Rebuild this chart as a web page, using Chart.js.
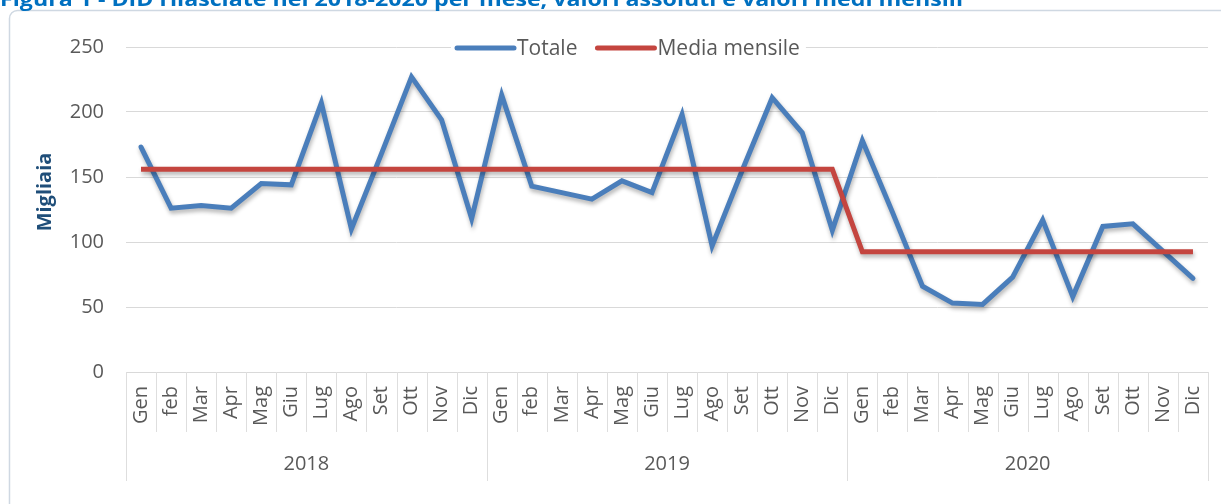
<!DOCTYPE html>
<html>
<head>
<meta charset="utf-8">
<script src="https://cdn.jsdelivr.net/npm/chart.js@4.4.1/dist/chart.umd.min.js"></script>
<style>
  html, body { margin: 0; padding: 0; background: #fff; overflow: hidden; }
  #wrap { position: relative; width: 1221px; height: 504px; }
  canvas { display: block; }
</style>
</head>
<body>
<div id="wrap"><canvas id="c" width="1221" height="504"></canvas></div>
<script>
// ---- Data (values in thousands) ----
const months = ['Gen','feb','Mar','Apr','Mag','Giu','Lug','Ago','Set','Ott','Nov','Dic'];
const years = ['2018','2019','2020'];
const totale2018 = [173,126,128,126,145,144,207,110,168,227,194,118];
const totale2019 = [213,143,138,133,147,138,198,97,155,211,184,109];
const totale2020 = [178,123,66,53,52,73,117,58,112,114,93,72];
const media2018 = [156,156,156,156,156,156,156,156,156,156,156,156];
const media2019 = [156,156,156,156,156,156,156,156,156,156,156,156];
const media2020 = [92.5,92.5,92.5,92.5,92.5,92.5,92.5,92.5,92.5,92.5,92.5,92.5];
const yTicks = [0,50,100,150,200,250];
const titleText = 'Figura 1 - DID rilasciate nel 2018-2020 per mese, valori assoluti e valori medi mensili';
const yTitle = 'Migliaia';
const seriesNames = ['Totale','Media mensile'];

// ---- Build ----
const labels = [].concat(months, months, months);
const totale = [].concat(totale2018, totale2019, totale2020);
const media = [].concat(media2018, media2019, media2020);

const FONT = '"Open Sans", "Noto Sans", sans-serif';
const GRAY = '#595959';
const BLUE = '#4A7EBB';
const RED = '#C4453F';

const decor = {
  id: 'decor',
  beforeDraw(chart) {
    const ctx = chart.ctx;
    ctx.save();
    ctx.fillStyle = '#ffffff';
    ctx.fillRect(0, 0, chart.width, chart.height);
    // frame
    ctx.strokeStyle = '#cfd8e2';
    ctx.lineWidth = 1.5;
    ctx.beginPath();
    ctx.roundRect(9.5, 10.5, chart.width + 30, chart.height + 30, 8);
    ctx.stroke();
    // title (partially cut at the top)
    ctx.fillStyle = '#0070C0';
    ctx.font = 'bold 20px ' + FONT;
    ctx.textBaseline = 'alphabetic';
    ctx.textAlign = 'left';
    const w = ctx.measureText(titleText).width;
    ctx.translate(0, 6);
    ctx.scale(963 / w, 1);
    ctx.fillText(titleText, 0, 0);
    ctx.restore();
  },
  beforeDatasetDraw(chart) {
    const ctx = chart.ctx;
    ctx.save();
    ctx.shadowColor = 'rgba(0,0,0,0.30)';
    ctx.shadowBlur = 4;
    ctx.shadowOffsetX = 1;
    ctx.shadowOffsetY = 3;
  },
  afterDatasetDraw(chart) {
    chart.ctx.restore();
  },
  afterDraw(chart) {
    const ctx = chart.ctx;
    const xs = chart.scales.x, x2 = chart.scales.x2;
    const n = labels.length;
    ctx.save();
    // category separators
    ctx.strokeStyle = '#dedede';
    ctx.lineWidth = 1;
    for (let i = 0; i <= n; i++) {
      let x;
      if (i === 0) x = xs.left;
      else if (i === n) x = xs.right;
      else x = (xs.getPixelForTick(i - 1) + xs.getPixelForTick(i)) / 2;
      x = Math.round(x) + 0.5;
      const y1 = (i % 12 === 0) ? x2.bottom + 3 : xs.bottom;
      ctx.beginPath();
      ctx.moveTo(x, xs.top);
      ctx.lineTo(x, y1);
      ctx.stroke();
    }
    // y axis title
    ctx.save();
    ctx.translate(45, 192);
    ctx.rotate(-Math.PI / 2);
    ctx.font = 'bold 20px ' + FONT;
    ctx.fillStyle = '#1F4E79';
    ctx.textAlign = 'center';
    ctx.textBaseline = 'middle';
    ctx.fillText(yTitle, 0, 0);
    ctx.restore();
    // legend (inside plot, top)
    ctx.font = '21px ' + FONT;
    const ly = 48;
    let lx = 457;
    const items = chart.data.datasets.map(d => ({ label: d.label, color: d.borderColor }));
    let total = 0;
    items.forEach((it, k) => { total += 57 + 3 + ctx.measureText(it.label).width + (k < items.length - 1 ? 20 : 0); });
    ctx.fillStyle = '#ffffff';
    ctx.fillRect(lx - 6, ly - 12, total + 12, 24);
    items.forEach(it => {
      ctx.strokeStyle = it.color;
      ctx.lineWidth = 5;
      ctx.lineCap = 'round';
      ctx.beginPath();
      ctx.moveTo(lx, ly);
      ctx.lineTo(lx + 57, ly);
      ctx.stroke();
      lx += 60;
      ctx.fillStyle = GRAY;
      ctx.textAlign = 'left';
      ctx.textBaseline = 'middle';
      ctx.fillText(it.label, lx, ly + 1);
      lx += ctx.measureText(it.label).width + 20;
    });
    ctx.restore();
  }
};

new Chart(document.getElementById('c'), {
  type: 'line',
  data: {
    labels: labels,
    datasets: [
      { label: seriesNames[0], data: totale, borderColor: BLUE, backgroundColor: BLUE,
        borderWidth: 5, pointRadius: 0, tension: 0, order: 2, xAxisID: 'x', borderCapStyle: 'round' },
      { label: seriesNames[1], data: media, borderColor: RED, backgroundColor: RED,
        borderWidth: 5, pointRadius: 0, tension: 0, order: 1, xAxisID: 'x', borderCapStyle: 'butt' }
    ]
  },
  options: {
    responsive: false,
    animation: false,
    devicePixelRatio: 1,
    layout: { padding: { top: 47, right: 13, bottom: 26, left: 0 } },
    plugins: { legend: { display: false }, title: { display: false }, tooltip: { enabled: false } },
    scales: {
      x: {
        type: 'category',
        position: 'bottom',
        offset: true,
        weight: 0,
        grid: { display: false, drawTicks: false },
        border: { display: true, color: '#d9d9d9', width: 1 },
        ticks: { autoSkip: false, maxRotation: 90, minRotation: 90, padding: 14,
                 color: GRAY, font: { family: FONT, size: 20 } },
        afterFit(s) { s.height = 60; s.paddingLeft = 0; s.paddingRight = 0; }
      },
      x2: {
        type: 'category',
        labels: years,
        position: 'bottom',
        offset: true,
        weight: 1,
        grid: { display: false, drawTicks: false },
        border: { display: false },
        ticks: { autoSkip: false, maxRotation: 0, minRotation: 0, padding: 20,
                 color: GRAY, font: { family: FONT, size: 20 } },
        afterFit(s) { s.height = 46; s.paddingLeft = 0; s.paddingRight = 0; }
      },
      y: {
        min: yTicks[0],
        max: yTicks[yTicks.length - 1],
        afterBuildTicks(s) { s.ticks = yTicks.map(v => ({ value: v })); },
        grid: { color: '#d9d9d9', drawTicks: false },
        border: { display: false },
        ticks: { padding: 22, color: GRAY, font: { family: FONT, size: 20 } },
        afterFit(s) { s.width = 126; s.paddingTop = 0; s.paddingBottom = 0; }
      }
    }
  },
  plugins: [decor]
});
</script>
</body>
</html>
